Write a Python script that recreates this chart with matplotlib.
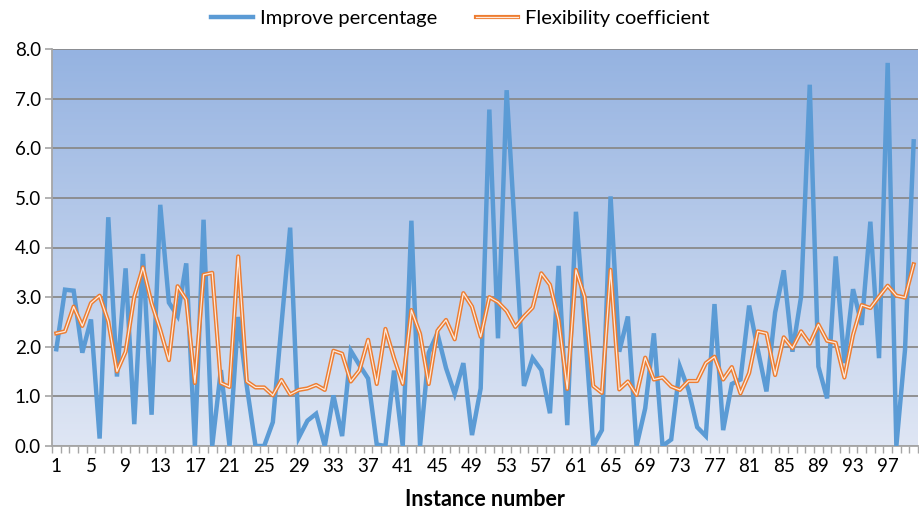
import numpy as np
import matplotlib
matplotlib.use("Agg")
import matplotlib.pyplot as plt
import matplotlib.patheffects as pe
from matplotlib.colors import LinearSegmentedColormap

instances = list(range(1, 101))
improve = [1.95, 3.15, 3.13, 1.88, 2.55, 0.15, 4.61, 1.40, 3.58, 0.44,
           3.87, 0.63, 4.86, 2.89, 2.62, 3.68, 0.0, 4.56, 0.0, 1.53,
           0.0, 2.60, 1.20, 0.0, 0.0, 0.48, 2.45, 4.40, 0.17, 0.51,
           0.65, 0.0, 1.02, 0.20, 1.92, 1.63, 1.36, 0.03, 0.0, 1.52,
           0.0, 4.54, 0.0, 1.88, 2.27, 1.57, 1.05, 1.67, 0.22, 1.16,
           6.78, 2.17, 7.17, 4.20, 1.21, 1.77, 1.53, 0.66, 3.63, 0.42,
           4.72, 2.45, 0.0, 0.32, 5.03, 1.90, 2.61, 0.0, 0.76, 2.27,
           0.0, 0.13, 1.60, 1.13, 0.38, 0.20, 2.86, 0.32, 1.25, 1.34,
           2.83, 1.94, 1.10, 2.69, 3.54, 1.90, 3.01, 7.28, 1.60, 0.96,
           3.82, 1.67, 3.16, 2.44, 4.52, 1.77, 7.72, 0.0, 1.94, 6.14]
flexibility = [2.27, 2.31, 2.81, 2.42, 2.88, 3.03, 2.51, 1.50, 1.90, 3.01,
               3.60, 2.88, 2.34, 1.73, 3.22, 2.95, 1.27, 3.45, 3.49, 1.27,
               1.19, 3.82, 1.30, 1.18, 1.18, 1.02, 1.33, 1.04, 1.13, 1.16,
               1.23, 1.13, 1.92, 1.86, 1.30, 1.52, 2.14, 1.25, 2.36, 1.77,
               1.25, 2.74, 2.26, 1.25, 2.32, 2.54, 2.15, 3.08, 2.81, 2.20,
               3.00, 2.90, 2.72, 2.40, 2.61, 2.79, 3.48, 3.25, 2.54, 1.15,
               3.55, 3.01, 1.21, 1.07, 3.55, 1.14, 1.30, 1.03, 1.78, 1.34,
               1.38, 1.20, 1.13, 1.31, 1.31, 1.67, 1.80, 1.34, 1.59, 1.06,
               1.47, 2.31, 2.27, 1.43, 2.19, 1.97, 2.31, 2.06, 2.45, 2.12,
               2.08, 1.38, 2.24, 2.84, 2.78, 3.01, 3.23, 3.03, 2.99, 3.66]
xtick_labels = [str(v) for v in range(1, 100, 4)]
ytick_values = [0, 1, 2, 3, 4, 5, 6, 7, 8]

plt.rcParams['font.family'] = ['Lato', 'DejaVu Sans']

fig = plt.figure(figsize=(9.2, 5.13), dpi=100)
ax = fig.add_axes([52/920, 1-446/513, 866/920, 397/513])

# gradient background
cmap = LinearSegmentedColormap.from_list('bg', ['#DFE6F4', '#95B3E1'])
grad = np.linspace(0, 1, 256).reshape(-1, 1)
ax.imshow(grad, cmap=cmap, origin='lower', aspect='auto',
          extent=[0.5, 100.5, 0, 8], zorder=0)

ax.set_xlim(0.5, 100.5)
ax.set_ylim(0, 8)

for y in ytick_values:
    ax.axhline(y, color='#8A8A8A', lw=1.3, zorder=1)

blue, = ax.plot(instances, improve, color='#5B9BD5', lw=3.2, zorder=3,
                solid_joinstyle='miter', label='Improve percentage')
orange, = ax.plot(instances, flexibility, color='#FDEBDF', lw=0.9, zorder=4,
                  label='Flexibility coefficient',
                  path_effects=[pe.Stroke(linewidth=3.0, foreground='#ED7D31'), pe.Normal()])

ax.set_yticks(ytick_values)
ax.set_yticklabels([f"{v:.1f}" for v in ytick_values], fontsize=13.5)
ax.set_xticks(list(range(1, 100, 4)))
ax.set_xticklabels(xtick_labels, fontsize=13.5)
ax.tick_params(axis='x', which='major', length=0, pad=9)
ax.set_xticks(np.arange(0.5, 101, 1), minor=True)
ax.tick_params(axis='x', which='minor', length=5, color='#A6A6A6', width=1)
ax.tick_params(axis='y', which='major', length=5, color='#A6A6A6', width=1.2, pad=3)

for s in ['top', 'right']:
    ax.spines[s].set_visible(False)
ax.spines['left'].set_color('#A6A6A6')
ax.spines['left'].set_linewidth(1.3)
ax.spines['bottom'].set_color('#A6A6A6')
ax.spines['bottom'].set_linewidth(1.3)

ax.set_xlabel('Instance number', fontsize=15.5, fontweight='bold', labelpad=10)

fig.legend(handles=[blue, orange], loc='upper center', bbox_to_anchor=(0.5, 1.016),
           ncol=2, frameon=False, fontsize=14.5, handlelength=2.1,
           columnspacing=1.9, handletextpad=0.35)

fig.savefig('out.png', dpi=100)
